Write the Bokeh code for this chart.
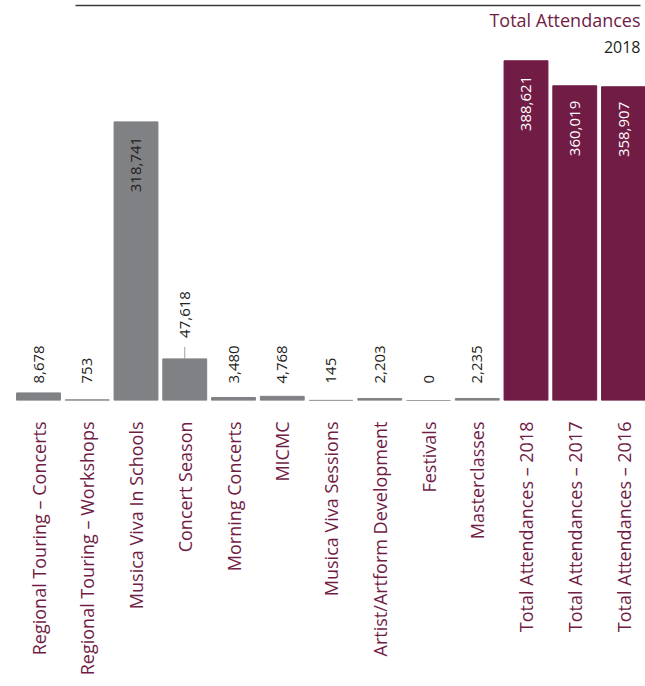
import numpy as np
from bokeh.plotting import figure
from bokeh.models import Range1d, FixedTicker, Label, ColumnDataSource
from bokeh.core.properties import value
from bokeh.embed import file_html
from bokeh.resources import INLINE

categories = [
    "Regional Touring – Concerts",
    "Regional Touring – Workshops",
    "Musica Viva In Schools",
    "Concert Season",
    "Morning Concerts",
    "MICMC",
    "Musica Viva Sessions",
    "Artist/Artform Development",
    "Festivals",
    "Masterclasses",
    "Total Attendances – 2018",
    "Total Attendances – 2017",
    "Total Attendances – 2016",
]
attendances = [8678, 753, 318741, 47618, 3480, 4768, 145, 2203, 0, 2235,
               388621, 360019, 358907]
is_total = [False] * 10 + [True] * 3

GRAY = "#808184"
MAROON = "#701c45"
TEXT = "#231f20"
FONT = "Open Sans"

n = len(categories)
xs = list(range(n))
labels = [f"{v:,}" for v in attendances]
colors = [MAROON if t else GRAY for t in is_total]

FRAME_W, FRAME_H = 645, 400
spacing = 48.75
x_start = -38 / spacing
x_end = x_start + FRAME_W / spacing
y_end = 457600
upp = y_end / FRAME_H  # units per pixel

p = figure(frame_width=FRAME_W, frame_height=FRAME_H, output_backend="svg",
           toolbar_location=None, x_range=Range1d(x_start, x_end),
           y_range=Range1d(0, y_end), y_axis_location=None, min_border=0,
           min_border_top=0, min_border_left=0, min_border_right=0, min_border_bottom=0)
p.outline_line_color = None
p.grid.visible = False
p.background_fill_color = "white"
p.border_fill_color = "white"

src = ColumnDataSource(dict(x=xs, top=attendances, color=colors, label=labels))
p.vbar(x="x", top="top", width=0.9, color="color", source=src)

VAL_SIZE = "15px"

# small gray bars: labels at fixed height above baseline
small = [i for i in range(n) if not is_total[i] and attendances[i] < 20000]
p.text(x=[xs[i] for i in small], y=[0] * len(small), text=[labels[i] for i in small],
       angle=np.pi / 2, text_align="left", text_baseline="middle", y_offset=-17,
       text_font=value(FONT), text_font_size=VAL_SIZE, text_color=TEXT)

# mid-height gray bars: label above with leader line
big = [i for i in range(n) if not is_total[i] and 20000 <= attendances[i] < 300000]
p.text(x=[xs[i] for i in big], y=[attendances[i] for i in big],
       text=[labels[i] for i in big], angle=np.pi / 2, text_align="left",
       text_baseline="middle", y_offset=-21, text_font=value(FONT),
       text_font_size=VAL_SIZE, text_color=TEXT)
p.segment(x0=[xs[i] for i in big], y0=[attendances[i] for i in big],
          x1=[xs[i] for i in big], y1=[attendances[i] + 12 * upp for i in big],
          line_color="#a0a0a0", line_width=1)

# labels inside the tall bars
inside = [i for i in range(n) if is_total[i] or attendances[i] >= 300000]
p.text(x=[xs[i] for i in inside], y=[attendances[i] for i in inside],
       text=[labels[i] for i in inside], angle=np.pi / 2, text_align="right",
       text_baseline="middle", y_offset=15, text_font=value(FONT),
       text_font_size=VAL_SIZE,
       text_color=["white" if is_total[i] else TEXT for i in inside])

# top rule
p.segment(x0=[x_start + 75 / spacing], y0=[y_end - 5 * upp],
          x1=[x_start + 640 / spacing], y1=[y_end - 5 * upp],
          line_color="#3a3a3a", line_width=1.5)

p.add_layout(Label(x=x_start + 640 / spacing, y=y_end - 19 * upp,
                   text="Total Attendances", text_align="right", text_baseline="middle",
                   text_font=FONT, text_font_size="18px", text_color=MAROON))
p.add_layout(Label(x=x_start + 640 / spacing, y=y_end - 46 * upp,
                   text="2018", text_align="right", text_baseline="middle",
                   text_font=FONT, text_font_size="16px", text_color=TEXT))

ax = p.xaxis[0]
ax.ticker = FixedTicker(ticks=xs)
ax.major_label_overrides = {i: c for i, c in zip(xs, categories)}
ax.major_label_orientation = np.pi / 2
ax.major_tick_line_color = None
ax.minor_tick_line_color = None
ax.axis_line_color = None
ax.major_label_standoff = 15
ax.major_label_text_font = FONT
ax.major_label_text_font_size = "18px"
ax.major_label_text_color = MAROON

open("out.html", "w").write(file_html(p, INLINE))
